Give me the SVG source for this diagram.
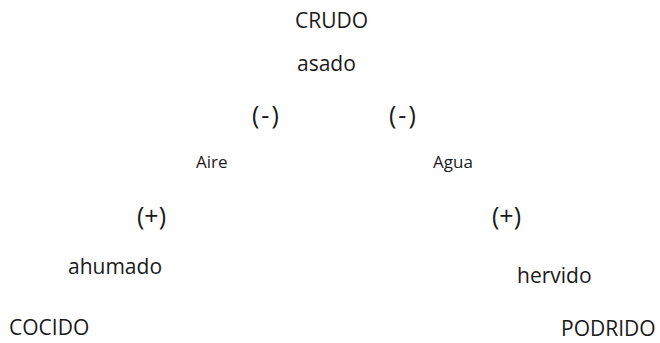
<svg xmlns="http://www.w3.org/2000/svg" width="660" height="343" viewBox="0 0 660 343">
<style>
text{font-family:"Open Sans","Noto Sans",sans-serif;fill:#1a1a1a;font-size:21px}
.s{font-size:17px}
.p{font-size:25px}
.m{font-size:25px;letter-spacing:2px}
</style>
<rect width="660" height="343" fill="#fff"/>
<g id="crudo"><text x="295" y="28">CRUDO</text></g>
<g id="asado"><text x="297" y="71">asado</text></g>
<g id="menos1"><text class="m" x="252" y="124">(-)</text></g>
<g id="menos2"><text class="m" x="389" y="124">(-)</text></g>
<g id="aire"><text class="s" x="196" y="168">Aire</text></g>
<g id="agua"><text class="s" x="433" y="168">Agua</text></g>
<g id="mas1"><text class="p" x="137" y="225">(+)</text></g>
<g id="mas2"><text class="p" x="492" y="225">(+)</text></g>
<g id="ahumado"><text x="68" y="274">ahumado</text></g>
<g id="hervido"><text x="517" y="283">hervido</text></g>
<g id="cocido"><text x="9" y="335">COCIDO</text></g>
<g id="podrido"><text x="561" y="336">PODRIDO</text></g>
<g id="connectors"></g>
</svg>
